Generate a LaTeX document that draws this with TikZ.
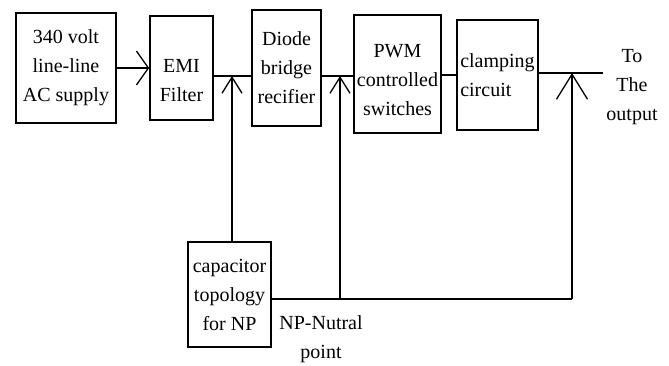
\documentclass[tikz,border=0pt]{standalone}
\usepackage{fontspec}
\setmainfont{Liberation Serif}
\usetikzlibrary{arrows.meta}

\begin{document}
\begin{tikzpicture}[
      x=1pt, y=-1pt,
      block/.style={rectangle, draw, line width=1.6pt, align=center, inner sep=1pt,
          font=\fontsize{20}{29}\selectfont},
      lbl/.style={align=center, inner sep=0pt, font=\fontsize{20}{29}\selectfont},
      wire/.style={line width=1.3pt},
      barb/.style={line width=1.3pt, -{Straight Barb[length=16pt, width=20pt]}},
      bigbarb/.style={line width=1.3pt, -{Straight Barb[length=25pt, width=31pt]}},
      wide barb/.style={line width=1.3pt, -{Straight Barb[length=12pt, width=34pt]}}
    ]
    \useasboundingbox (0,0) rectangle (669,365);

    \node[block, minimum width=100pt, minimum height=110pt] (supply) at (66,68) {340 volt\\line-line\\AC supply};
    \node[block, minimum width=63pt, minimum height=104pt] (emi) at (181.5,68) {\rule{0pt}{38pt}EMI\\Filter};
    \node[block, minimum width=69pt, minimum height=116pt] (rect) at (286.5,68) {Diode\\bridge\\recifier};
    \node[block, minimum width=87pt, minimum height=118pt] (pwm) at (397.5,74) {\rule{0pt}{26pt}PWM\\controlled\\switches};
    \node[block, minimum width=81pt, minimum height=110pt, align=left] (clamp) at (497.5,75) {clamping\\circuit};
    \node[block, minimum width=83pt, minimum height=105pt] (cap) at (229.5,294.5) {capacitor\\topology\\for NP};

    \node[lbl] (out) at (632,87) {To\\The\\output};
    \node[lbl, anchor=north] (np) at (321,315) {NP-Nutral\\point};

    \coordinate (j1) at (232,76);
    \coordinate (j2) at (340,76);
    \coordinate (j3) at (572,73);
    \coordinate (outend) at (603,73);
    \coordinate (b2) at (340,299);
    \coordinate (b3) at (572,299);

    \draw[wide barb] (supply.east) -- (emi.west);
    \draw[wire] (emi.east |- j1) -- (rect.west |- j1);
    \draw[wire] (rect.east |- j2) -- (pwm.west |- j2);
    \draw[wire] (pwm.east |- clamp.west) -- (clamp.west);
    \draw[wire] (clamp.east |- j3) -- (outend);
    \draw[wire] (cap.east |- b2) -- (b3);
    \draw[barb] (cap.north -| j1) -- (j1);
    \draw[barb] (b2) -- (j2);
    \draw[bigbarb] (b3) -- (j3);
  \end{tikzpicture}
\end{document}
